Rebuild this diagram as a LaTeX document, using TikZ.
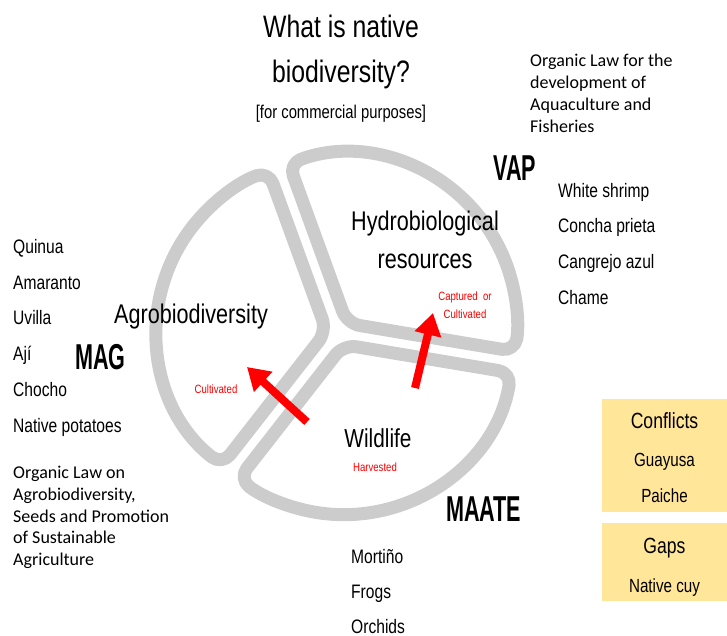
\documentclass[tikz,border=0pt]{standalone}
\usepackage{fontspec}
\setmainfont[FakeStretch=0.8]{Liberation Sans}
\newfontfamily\heavyfont[FakeStretch=0.6]{Liberation Sans}
\newfontfamily\lawfont{Carlito}
\usetikzlibrary{arrows.meta, calc}
\definecolor{boxYellow}{HTML}{FFE699}
\tikzstyle{sector} = [draw=gray!40, line width=13pt, rounded corners=13pt, line join=round]
\tikzstyle{arrow} = [draw=red, line width=8pt, -{Triangle[width=26pt,length=22pt,fill=red]}]
\tikzstyle{title} = [inner sep=0, anchor=base, font=\fontsize{31}{31}\selectfont]
\tikzstyle{topic} = [inner sep=0, anchor=base, font=\fontsize{27}{27}\selectfont]
\tikzstyle{use} = [inner sep=0, anchor=base, text=red, font=\fontsize{12}{12}\selectfont]
\tikzstyle{item} = [inner sep=0, anchor=base west, font=\fontsize{19.5}{20}\selectfont]
\tikzstyle{agency} = [inner sep=0, anchor=base west, font=\heavyfont\bfseries\fontsize{36}{36}\selectfont]
\tikzstyle{law} = [inner sep=0, anchor=base west, font=\lawfont\fontsize{18}{22}\selectfont]
\tikzstyle{box} = [fill=boxYellow, anchor=north west, minimum width=125pt, inner sep=0]
\tikzstyle{boxText} = [inner sep=0, anchor=base, font=\fontsize{19}{20}\selectfont]

\begin{document}
\begin{tikzpicture}[x=1pt, y=-1pt]
\useasboundingbox (0,0) rectangle (727,636);

% Sectors
\coordinate (center) at (339,333);
\coordinate (agroApex) at ($(center)+(189:12.5)$);
\coordinate (hydroApex) at ($(center)+(309.75:12.5)$);
\coordinate (wildApex) at ($(center)+(68.75:12.5)$);
\draw [sector] (agroApex) -- ++(128:170) arc[start angle=128, end angle=250, radius=170] -- cycle;
\draw [sector] (hydroApex) -- ++(250:170) arc[start angle=250, end angle=369.5, radius=170] -- cycle;
\draw [sector] (wildApex) -- ++(9.5:170) arc[start angle=9.5, end angle=128, radius=170] -- cycle;

% Title
\node (titleTop) [title] at (341,38) {What is native};
\node (titleBottom) [title] at (341,83) {biodiversity?};
\node (purpose) [inner sep=0, anchor=base, font=\fontsize{18.5}{18.5}\selectfont] at (341,119) {[for commercial purposes]};

% Sector labels
\node (hydroTop) [topic] at (425,230) {Hydrobiological};
\node (hydroBottom) [topic] at (425,268) {resources};
\node (captured) [use] at (465,300) {Captured\ \ or};
\node (cultivatedHydro) [use] at (465,318) {Cultivated};
\node (agro) [topic] at (191,323) {Agrobiodiversity};
\node (cultivatedAgro) [use] at (216,393) {Cultivated};
\node (wildlife) [topic, font=\fontsize{26}{26}\selectfont] at (378,447) {Wildlife};
\node (harvested) [use] at (375,471) {Harvested};

% Agencies
\node (vap) [agency] at (493,181) {VAP};
\node (mag) [agency] at (75,369) {MAG};
\node (maate) [agency] at (446,521) {MAATE};

% Laws
\node (vapLaw1) [law] at (530,67) {Organic Law for the};
\node (vapLaw2) [law] at (530,89) {development of};
\node (vapLaw3) [law] at (530,111) {Aquaculture and};
\node (vapLaw4) [law] at (530,133) {Fisheries};
\node (magLaw1) [law] at (13,478) {Organic Law on};
\node (magLaw2) [law] at (13,500) {Agrobiodiversity,};
\node (magLaw3) [law] at (13,522) {Seeds and Promotion};
\node (magLaw4) [law] at (13,543) {of Sustainable};
\node (magLaw5) [law] at (13,565) {Agriculture};

% Species
\node (shrimp) [item] at (558,197) {White shrimp};
\node (concha) [item] at (558,232) {Concha prieta};
\node (cangrejo) [item] at (558,268) {Cangrejo azul};
\node (chame) [item] at (558,304) {Chame};
\node (quinua) [item] at (13,253) {Quinua};
\node (amaranto) [item] at (13,289) {Amaranto};
\node (uvilla) [item] at (13,324) {Uvilla};
\node (aji) [item] at (13,360) {Ají};
\node (chocho) [item] at (13,396) {Chocho};
\node (potatoes) [item] at (13,432) {Native potatoes};
\node (mortino) [item] at (351,563) {Mortiño};
\node (frogs) [item] at (351,598) {Frogs};
\node (orchids) [item] at (351,633) {Orchids};

% Boxes
\node (conflictsBox) [box, minimum height=113pt] at (602,399) {};
\node (gapsBox) [box, minimum height=78pt] at (602,523) {};
\node (conflicts) [boxText, font=\fontsize{22}{22}\selectfont] at (664.5,428) {Conflicts};
\node (guayusa) [boxText] at (664.5,466) {Guayusa};
\node (paiche) [boxText] at (664.5,502) {Paiche};
\node (gaps) [boxText, font=\fontsize{22}{22}\selectfont] at (664.5,553) {Gaps};
\node (cuy) [boxText] at (664.5,592) {Native cuy};

% Arrows
\coordinate (wildToAgro) at (307,422);
\coordinate (agroTip) at (247,367);
\coordinate (wildToHydro) at (415,388);
\coordinate (hydroTip) at (433,313);
\draw [arrow] (wildToAgro) -- (agroTip);
\draw [arrow] (wildToHydro) -- (hydroTip);

\end{tikzpicture}
\end{document}
